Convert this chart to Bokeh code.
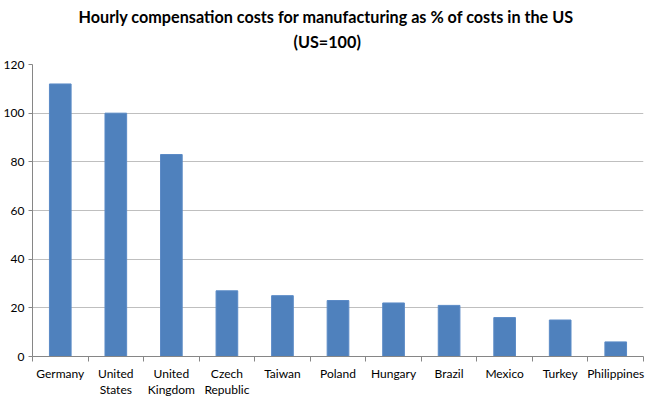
import numpy as np
from bokeh.plotting import figure
from bokeh.models import FixedTicker, Title, Range1d
from bokeh.embed import file_html
from bokeh.resources import INLINE

countries = ["Germany", "United States", "United Kingdom", "Czech Republic", "Taiwan",
             "Poland", "Hungary", "Brazil", "Mexico", "Turkey", "Philippines"]
tick_labels = ["Germany", "United\nStates", "United\nKingdom", "Czech\nRepublic", "Taiwan",
               "Poland", "Hungary", "Brazil", "Mexico", "Turkey", "Philippines"]
values = [112, 100, 83, 27, 25, 23, 22, 21, 16, 15, 6]
y_ticks = [0, 20, 40, 60, 80, 100, 120]
title_lines = ["Hourly compensation costs for manufacturing as % of costs in the US", "(US=100)"]

FONT = "Lato"
n = len(countries)
centers = [i + 0.5 for i in range(n)]
bounds = list(range(n + 1))

p = figure(width=647, height=399, output_backend="svg", toolbar_location=None,
           x_range=Range1d(0, n), y_range=Range1d(0, 120),
           min_border_left=25, min_border_right=4, min_border_top=64, min_border_bottom=10)
p.outline_line_color = None
p.background_fill_color = "white"
p.border_fill_color = "white"

p.vbar(x=centers, top=values, width=0.39, fill_color="#4F81BD", line_color="#5A8AC6", line_width=1)

xa = p.xaxis[0]
xa.ticker = FixedTicker(ticks=centers, minor_ticks=bounds)
xa.major_label_overrides = {float(c): lab for c, lab in zip(centers, tick_labels)}
xa.major_tick_line_color = None
xa.major_tick_out = 0
xa.major_tick_in = 0
xa.minor_tick_line_color = "#868686"
xa.minor_tick_out = 5
xa.minor_tick_in = 0
xa.axis_line_color = "#868686"
xa.major_label_standoff = 4
xa.major_label_text_font = FONT
xa.major_label_text_font_size = "12px"
xa.major_label_text_line_height = 1.07
xa.major_label_text_color = "#000000"

ya = p.yaxis[0]
ya.ticker = FixedTicker(ticks=y_ticks, minor_ticks=[])
ya.major_tick_out = 4
ya.major_tick_in = 0
ya.major_tick_line_color = "#868686"
ya.minor_tick_line_color = None
ya.axis_line_color = "#868686"
ya.major_label_standoff = 4
ya.major_label_text_font = FONT
ya.major_label_text_font_size = "12px"
ya.major_label_text_color = "#000000"

p.xgrid.grid_line_color = None
p.ygrid.ticker = FixedTicker(ticks=y_ticks)
p.ygrid.grid_line_color = "#BFBFBF"

for line, sto, off in [(title_lines[1], 27, 261), (title_lines[0], -19, 46)]:
    p.add_layout(Title(text=line, align="left", offset=off, standoff=sto,
                       text_font=FONT, text_font_style="bold", text_font_size="16.2px",
                       text_color="#000000"), "above")

# small empty spacer below the category labels
p.add_layout(Title(text="", standoff=3, text_font_size="1px"), "below")

open("out.html", "w").write(file_html(p, INLINE))
